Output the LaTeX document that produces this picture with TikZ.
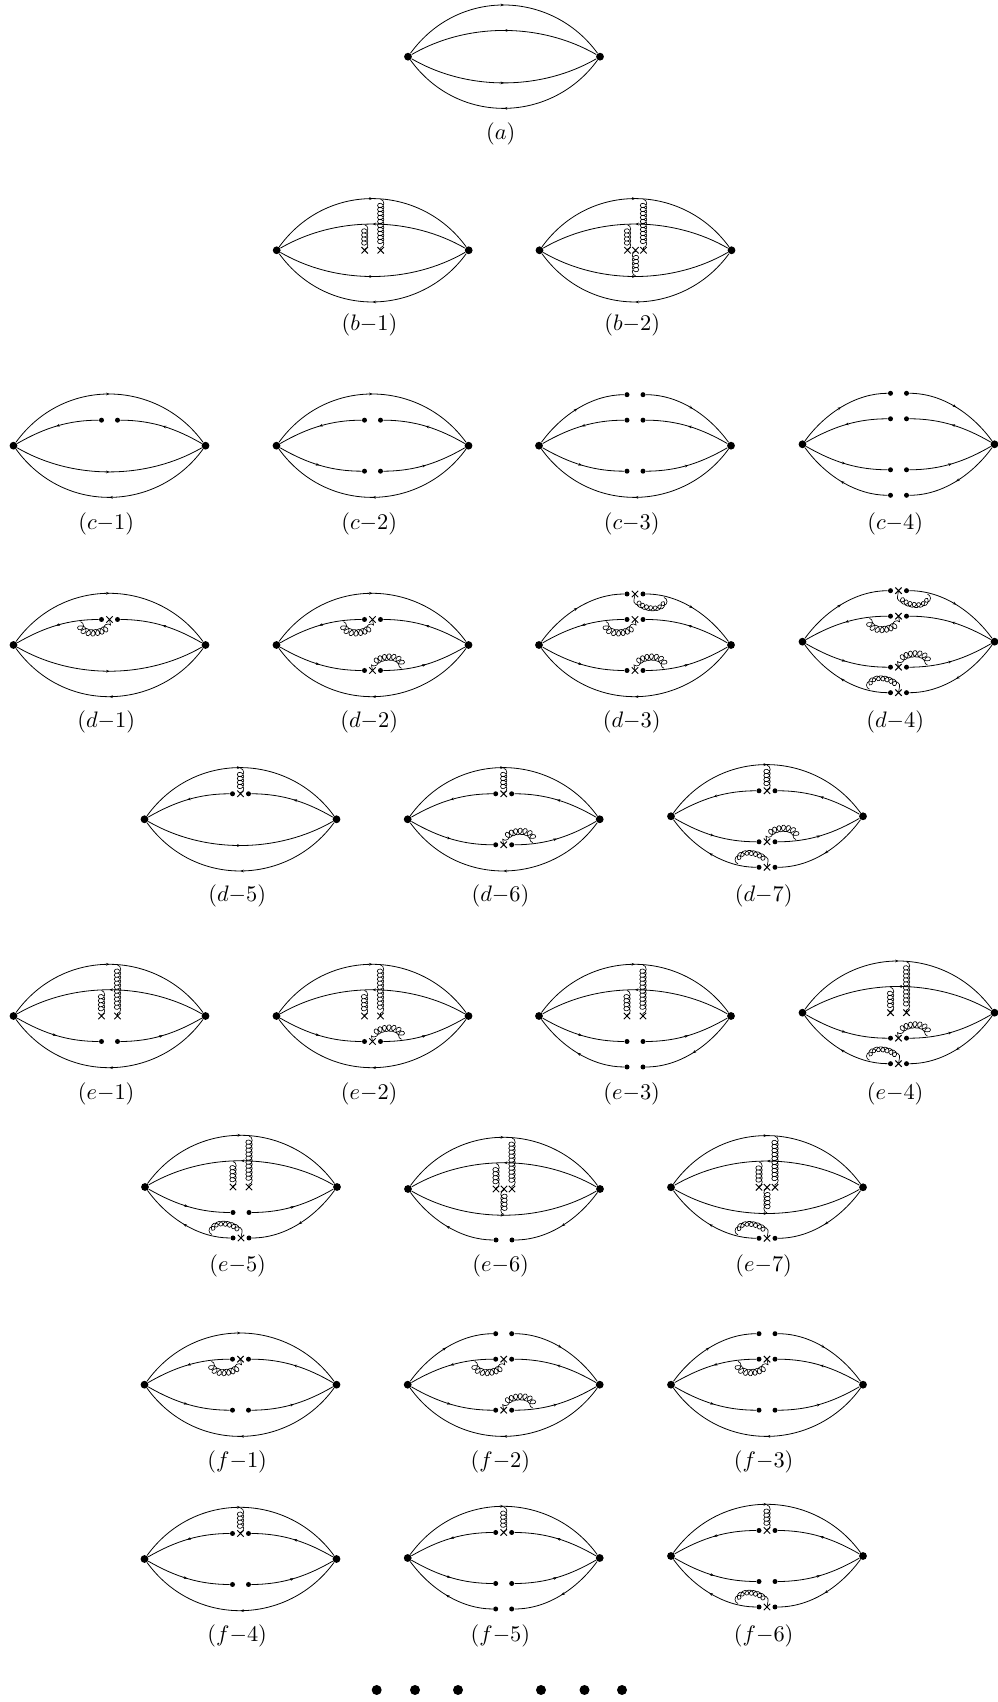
\documentclass[tikz,border=0pt]{standalone}
\usepackage{amsmath}
\usetikzlibrary{arrows.meta,decorations.markings,decorations.pathmorphing,shapes.misc}

% Style for nodes and lines
\tikzset{
    bigdot/.style={circle, fill=black, inner sep=0pt, minimum size=3.9pt},
    smalldot/.style={circle, fill=black, inner sep=0pt, minimum size=2.5pt},
    moredot/.style={circle, fill=black, inner sep=0pt, minimum size=5pt},
    crossnode/.style={cross out, draw=black, line width=0.5pt, inner sep=0pt, outer sep=0pt, minimum size=3.2pt},
    labelnode/.style={scale=1.12, inner sep=0pt},
    quark/.style={black, line width=0.4pt},
    quarkfwd/.style={quark, postaction={decorate}, decoration={markings, mark=at position 0.5 with {\arrow{Stealth[length=1.7pt,width=1.4pt]}}}},
    quarkbwd/.style={quark, postaction={decorate}, decoration={markings, mark=at position 0.5 with {\arrowreversed{Stealth[length=1.7pt,width=1.4pt]}}}},
    gluonline/.style={black, line width=0.32pt, decorate, decoration={coil, aspect=1, segment length=2pt, amplitude=1.6pt}},
    gluonarc/.style={black, line width=0.32pt, decorate, decoration={coil, aspect=1, segment length=2.1pt, amplitude=1.5pt}}
}

% one quark line: tag, open?, height, angle at L, looseness whole, looseness open, style
\newcommand{\qline}[7]{%
    \pgfmathsetmacro{\angin}{180-#4}
    \ifnum#2=0
        \draw[#7] (L) to[out=#4, in=\angin, looseness=#5] (R);
    \else
        \node[smalldot] (p#1) at (-8,#3) {};
        \node[smalldot] (q#1) at (8,#3) {};
        \draw[#7] (L) to[out=#4, in=180, looseness=#6] (p#1);
        \draw[#7] (q#1) to[out=0, in=\angin, looseness=#6] (R);
    \fi
}
% the four lines, flags 1 = line is cut
\def\lineset#1#2#3#4{%
    \qline{t}{#1}{51}{54}{1.1}{0.9}{quarkfwd}
    \qline{s}{#2}{25.5}{30}{0.9}{0.94}{quarkbwd}
    \qline{h}{#3}{-25.5}{-30}{0.9}{0.94}{quarkfwd}
    \qline{b}{#4}{-51}{-54}{1.1}{0.9}{quarkbwd}
}
% straight gluon: tag, x, y of far end, y of cross
\newcommand{\vg}[4]{%
    \coordinate (g#1) at (#2,#3);
    \node[crossnode] (x#1) at (#2,#4) {};
    \draw[gluonline] (g#1) -- (x#1.center);
}
% curved gluon: tag, x of far end, y of far end, y of cross, direction
\newcommand{\ag}[5]{%
    \coordinate (g#1) at (#2,#3);
    \node[crossnode] (x#1) at (0,#4) {};
    \draw[gluonarc] (g#1) to[out=#5, in=#5, looseness=1.35] (x#1.center);
}
\newcommand{\gluetop}{\ag{t}{29}{47.5}{51}{-90}}
\newcommand{\gluesec}{\ag{s}{-29}{23.3}{25.5}{-90}}
\newcommand{\gluethd}{\ag{h}{29}{-23.3}{-25.5}{90}}
\newcommand{\gluebot}{\ag{b}{-29}{-47.5}{-51}{90}}
\newcommand{\gluedrop}{\vg{d}{0}{51}{25.5}}
\newcommand{\gluepair}{\vg{p}{8}{51}{0}\vg{k}{-8}{25.5}{0}}
\newcommand{\gluethree}{\gluepair\vg{m}{0}{-25.5}{0}}

% name, centre x, centre y, label y, label, cut flags, extra gluons
\newcommand{\bubble}[7]{%
    \begin{scope}[shift={(#2,#3)}, name prefix=#1-]
        \node[bigdot] (L) at (-96,0) {};
        \node[bigdot] (R) at (96,0) {};
        \node[labelnode] (lab) at (-3.3,#4-#3) {$(#5)$};
        \lineset#6
        #7
    \end{scope}
}

\begin{document}
\begin{tikzpicture}[x=0.5pt, y=0.5pt]
    \useasboundingbox (0,0) rectangle (997,1702);

    % --- ROW a, b ---
    \bubble{a}{504}{1645.3}{1568.5}{a}{0000}{}
    \bubble{bA}{372.7}{1451.7}{1377}{b{-}1}{0000}{\gluepair}
    \bubble{bB}{635.5}{1451.7}{1377}{b{-}2}{0000}{\gluethree}

    % --- ROW c ---
    \bubble{cA}{109.5}{1256.3}{1178}{c{-}1}{0100}{}
    \bubble{cB}{372.5}{1256.3}{1178}{c{-}2}{0110}{}
    \bubble{cC}{635}{1256.3}{1178}{c{-}3}{1110}{}
    \bubble{cD}{898.5}{1257.7}{1178}{c{-}4}{1111}{}

    % --- ROW d ---
    \bubble{dA}{109.5}{1057}{980}{d{-}1}{0100}{\gluesec}
    \bubble{dB}{372.5}{1057}{980}{d{-}2}{0110}{\gluesec\gluethd}
    \bubble{dC}{635}{1057}{980}{d{-}3}{1110}{\gluetop\gluesec\gluethd}
    \bubble{dD}{898.5}{1060.3}{980}{d{-}4}{1111}{\gluetop\gluesec\gluethd\gluebot}
    \bubble{dE}{240.5}{882.7}{806}{d{-}5}{0100}{\gluedrop}
    \bubble{dF}{503.7}{882.7}{806}{d{-}6}{0110}{\gluedrop\gluethd}
    \bubble{dG}{767}{885.7}{806}{d{-}7}{0111}{\gluedrop\gluethd\gluebot}

    % --- ROW e ---
    \bubble{eA}{109.5}{686}{608.5}{e{-}1}{0010}{\gluepair}
    \bubble{eB}{372.5}{686}{608.5}{e{-}2}{0010}{\gluepair\gluethd}
    \bubble{eC}{635}{686}{608.5}{e{-}3}{0011}{\gluepair}
    \bubble{eD}{898.5}{689.3}{608.5}{e{-}4}{0011}{\gluepair\gluethd\gluebot}
    \bubble{eE}{241}{515}{436}{e{-}5}{0011}{\gluepair\gluebot}
    \bubble{eF}{504}{513}{436}{e{-}6}{0001}{\gluethree}
    \bubble{eG}{767}{514.7}{436}{e{-}7}{0001}{\gluethree\gluebot}

    % --- ROW f ---
    \bubble{fA}{240.5}{317.3}{240}{f{-}1}{0110}{\gluesec}
    \bubble{fB}{503.7}{317.3}{240}{f{-}2}{1110}{\gluesec\gluethd}
    \bubble{fC}{767}{317.3}{240}{f{-}3}{1110}{\gluesec}
    \bubble{fD}{240.5}{143}{66}{f{-}4}{0110}{\gluedrop}
    \bubble{fE}{503.7}{144}{66}{f{-}5}{0111}{\gluedrop}
    \bubble{fF}{767}{146}{66}{f{-}6}{0111}{\gluedrop\gluebot}

    % --- DOTS AT THE FOOT ---
    \foreach \k/\xpos in {1/376.7,2/415,3/458,4/541,5/584.5,6/622} {
        \node[moredot] (more\k) at (\xpos,12) {};
    }
\end{tikzpicture}
\end{document}
